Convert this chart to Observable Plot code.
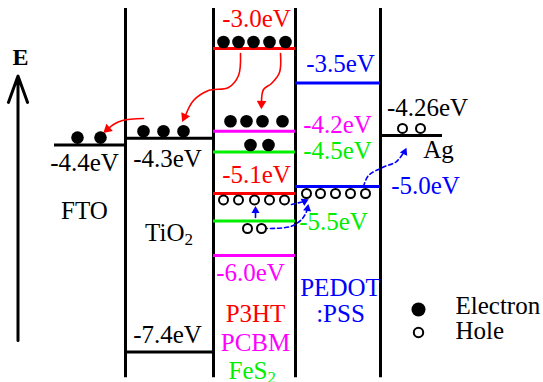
<!DOCTYPE html>
<html><head><meta charset="utf-8">
<script src="https://cdn.jsdelivr.net/npm/d3@7"></script>
<script src="https://cdn.jsdelivr.net/npm/@observablehq/plot@0.6"></script>
<style>body{margin:0;background:#fff}svg{display:block}</style>
</head><body><div id="chart"></div>
<script>
// ---------- DATA ----------
const layers = ["FTO", "TiO2", "P3HT:PCBM:FeS2", "PEDOT:PSS", "Ag"];

// energy levels (eV)
const levelLayers    = ["FTO","TiO2","TiO2","P3HT:PCBM:FeS2","P3HT:PCBM:FeS2","P3HT:PCBM:FeS2","P3HT:PCBM:FeS2","P3HT:PCBM:FeS2","P3HT:PCBM:FeS2","PEDOT:PSS","PEDOT:PSS","Ag"];
const levelMaterials = ["FTO","TiO2","TiO2","P3HT","PCBM","FeS2","P3HT","FeS2","PCBM","PEDOT","PEDOT","Ag"];
const levelEnergies  = [-4.4, -4.3, -7.4, -3.0, -4.2, -4.5, -5.1, -5.5, -6.0, -3.5, -5.0, -4.26];
const levelLabels    = ["-4.4eV","-4.3eV","-7.4eV","-3.0eV","-4.2eV","-4.5eV","-5.1eV","-5.5eV","-6.0eV","-3.5eV","-5.0eV","-4.26eV"];

// carriers sitting on levels (energy of the level they belong to)
const electronEnergies = [-4.4,-4.4, -4.3,-4.3,-4.3, -3.0,-3.0,-3.0,-3.0,-3.0, -4.2,-4.2,-4.2,-4.2, -4.5,-4.5];
const holeEnergies     = [-5.1,-5.1,-5.1,-5.1,-5.1, -5.0,-5.0,-5.0,-5.0,-5.0, -5.5,-5.5, -4.26,-4.26];

// material names
const materialNames = ["FTO","PEDOT",":PSS","Ag","P3HT","PCBM"];
const subscriptNames = ["TiO","FeS"];
const legendNames = ["Electron","Hole"];

// ---------- LAYOUT / STYLE ----------
const W = 543, H = 382, PX = 69;               // 69 px per eV
const px = (p) => p / PX;                       // pixel offset -> eV
const yTop = -3.0 + 48/PX, yBottom = -3.0 - (H - 48)/PX;
const layerSpan = {"FTO":[54,125],"TiO2":[125,213],"P3HT:PCBM:FeS2":[213,295],"PEDOT:PSS":[295,380],"Ag":[380,442]};
const walls = [125,213,295,380];
const wallTop = -2.42, wallBottom = -7.77;
const colors = {FTO:"#000",TiO2:"#000",P3HT:"#ff0000",PCBM:"#ff00ff",FeS2:"#00ee00",PEDOT:"#0000ff",Ag:"#000"};
const labelX  = [84,167,167,256,337,337,256,333,250,340,425,427];
const labelDy = [18,21,-17,-30,-6,-1,-18,1,17,-19,-1,-27];
const electronX  = [77,100, 143,163,183, 223,238,253,269,285, 230,246,262,282, 250,268];
const electronDy = [-7.5,-7.5, -7,-7,-7, -6.5,-6.5,-6.5,-6.5,-6.5, -10,-10,-10,-10, -7,-7];
const holeX  = [223,238,254,269,284, 306,320,335,350,365, 247,261, 402,420];
const holeDy = [6.5,6.5,6.5,6.5,6.5, 7,7,7,7,7, 7.5,7.5, -7,-7];
const materialX = [84,340,340,438,255,255];
const materialE = [-5.348,-6.478,-6.841,-4.478,-6.841,-7.261];
const materialColor = ["#000",colors.PEDOT,colors.PEDOT,"#000",colors.P3HT,colors.PCBM];
const subX = [184,267], subE = [-5.667,-7.667], subColor = ["#000",colors.FeS2];

// transfer paths (x, energy)
const redPaths = [
  [[240,-3.072],[238,-3.391],[228,-3.565],[208,-3.609],[193,-3.754],[185,-3.971]],
  [[280,-3.072],[279,-3.348],[271,-3.507],[263,-3.594],[261,-3.78]],
  [[143,-4.014],[122,-4.043],[113,-4.101],[108,-4.16]]
];
const redHeads = [[184,-3.99,205],[261,-3.80,182],[107,-4.17,228]];
const bluePaths = [
  [[263,-5.609],[290,-5.580],[302,-5.464],[307,-5.33]],
  [[291,-5.261],[303,-5.22]],
  [[255,-5.449],[255,-5.36]],
  [[363,-5.0],[368,-4.841],[382,-4.725],[396,-4.638],[403,-4.51]]
];
const blueHeads = [[307,-5.32,10],[304,-5.215,63],[255,-5.35,0],[404,-4.50,25]];

const levels = levelEnergies.map((e,i)=>({e, layer:levelLayers[i], label:levelLabels[i],
  x1:layerSpan[levelLayers[i]][0], x2:layerSpan[levelLayers[i]][1], lx:labelX[i], ly:e - px(labelDy[i]), color:colors[levelMaterials[i]]}));
const electrons = electronEnergies.map((e,i)=>({x:electronX[i], y:e - px(electronDy[i])}));
const holes = holeEnergies.map((e,i)=>({x:holeX[i], y:e - px(holeDy[i])}));
const mats = materialNames.map((t,i)=>({t, x:materialX[i], e:materialE[i], c:materialColor[i]}));
const subs = subscriptNames.map((t,i)=>({t, x:subX[i], e:subE[i], c:subColor[i]}));
const flat = (paths) => paths.flatMap((p,k)=>p.map(([x,e])=>({x,e,k})));
const heads = (h) => h.map(([x,e,a])=>({x,e,a}));

const serif = "'Liberation Serif', 'Times New Roman', serif";
const fs = 25;

const plot = Plot.plot({
  width: W, height: H, margin: 0,
  x: {domain:[0,W], axis:null},
  y: {domain:[yBottom,yTop], axis:null},
  style: {background:"#fff"},
  marks: [
    // energy axis arrow
    Plot.arrow([{}], {x1:17.5, x2:17.5, y1:-7.232, y2:-3.40, stroke:"#000", strokeWidth:3, headLength:14, headAngle:40}),
    Plot.text(["E"], {x:20, y:-3.123, text:d=>d, fontFamily:serif, fontWeight:"bold", fontSize:24, fill:"#000"}),
    // layer walls
    Plot.ruleX(walls, {x:d=>d, y1:wallTop, y2:wallBottom, stroke:"#000", strokeWidth:3}),
    // levels
    Plot.ruleY(levels, {y:"e", x1:"x1", x2:"x2", stroke:"color", strokeWidth:3}),
    Plot.text(levels, {x:"lx", y:"ly", text:"label", fill:"color", fontFamily:serif, fontSize:fs}),
    // transfer arrows
    Plot.line(flat(redPaths), {x:"x", y:"e", z:"k", stroke:"#ff0000", strokeWidth:1.6, curve:"catmull-rom"}),
    Plot.dot(heads(redHeads), {x:"x", y:"e", symbol:"triangle", r:3.6, fill:"#ff0000", rotate:"a"}),
    Plot.line(flat(bluePaths), {x:"x", y:"e", z:"k", stroke:"#0000ff", strokeWidth:1.6, strokeDasharray:"4,3", curve:"catmull-rom"}),
    Plot.dot(heads(blueHeads), {x:"x", y:"e", symbol:"triangle", r:3, fill:"#0000ff", rotate:"a"}),
    // carriers
    Plot.dot(electrons, {x:"x", y:"y", r:6.3, fill:"#000"}),
    Plot.dot(holes, {x:"x", y:"y", r:4.5, fill:"#fff", stroke:"#000", strokeWidth:2}),
    // material names
    Plot.text(mats, {x:"x", y:"e", text:"t", fill:"c", fontFamily:serif, fontSize:fs}),
    Plot.text(subs, {x:"x", y:"e", text:"t", fill:"c", textAnchor:"end", fontFamily:serif, fontSize:fs}),
    Plot.text(subs, {x:"x", y:d=>d.e - px(7), text:()=>"2", fill:"c", textAnchor:"start", fontFamily:serif, fontSize:17}),
    // legend
    Plot.dot([legendNames[0]], {x:418, y:-6.783, r:7, fill:"#000"}),
    Plot.dot([legendNames[1]], {x:418, y:-7.116, r:4.7, fill:"#fff", stroke:"#000", strokeWidth:2}),
    Plot.text(legendNames, {x:455, y:(d,i)=>i===0?-6.725:-7.087, text:d=>d, textAnchor:"start", fontFamily:serif, fontSize:fs, fill:"#000"})
  ]
});
document.getElementById("chart").appendChild(plot);
</script>
</body></html>
